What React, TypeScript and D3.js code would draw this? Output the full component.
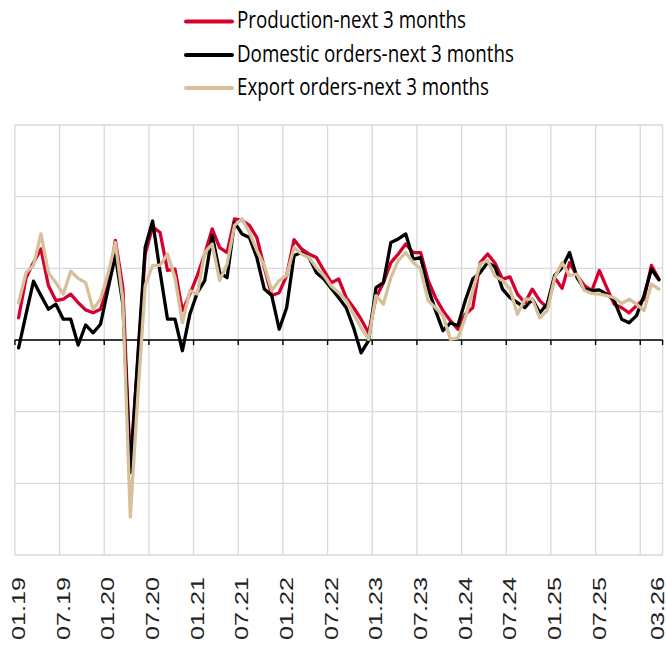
import React from "react";
import * as d3 from "d3";

const W = 666;
const H = 648;

// months 01.19 .. 03.26
const startYear = 2019;
const nMonths = 87;
const categories: string[] = Array.from({ length: nMonths }, (_, i) => {
  const m = (i % 12) + 1;
  const y = startYear + Math.floor(i / 12);
  return `${String(m).padStart(2, "0")}.${String(y % 100).padStart(2, "0")}`;
});

const tickLabels = ["01.19", "07.19", "01.20", "07.20", "01.21", "07.21", "01.22", "07.22", "01.23", "07.23", "01.24", "07.24", "01.25", "07.25", "03.26"];

const production = [
  3.1, 8.7, 10.8, 12.7, 7.6, 5.5, 5.7, 6.4, 5.2, 4.2, 3.8, 4.3,
  7.6, 13.9, 7.3, -17.5, -3, 12.0, 15.8, 15.0, 9.7, 9.9, 4.1, 6.4,
  9.0, 12.0, 15.5, 12.9, 12.2, 16.9, 16.7, 16.0, 14.3, 10.1, 6.2, 6.6,
  9.0, 14.0, 12.7, 12.0, 11.5, 9.7, 8.0, 8.5, 5.9, 4.5, 2.9, 1.0,
  5.9, 8.0, 10.8, 12.0, 13.4, 12.2, 12.2, 8.3, 5.9, 4.1, 2.7, 1.5,
  3.6, 4.5, 10.8, 12.0, 10.7, 8.5, 8.8, 6.4, 5.2, 7.1, 5.5, 4.5,
  8.7, 7.2, 10.8, 9.0, 7.6, 6.9, 9.7, 7.3, 5.0, 4.5, 3.8, 4.8,
  5.7, 10.4, 8.5,
];

const domestic = [
  -1.1, 3.6, 8.2, 6.2, 4.3, 5.0, 2.9, 2.9, -0.7, 2.1, 1.0, 2.2,
  7.1, 11.8, 5.0, -18.5, -2.5, 12.9, 16.6, 9.5, 2.9, 2.9, -1.5, 3.6,
  6.6, 8.3, 14.6, 9.4, 8.7, 16.4, 14.8, 14.3, 11.5, 7.1, 6.2, 1.5,
  4.5, 11.8, 12.2, 11.5, 9.4, 8.5, 7.2, 5.9, 4.5, 1.7, -1.8, -0.1,
  7.3, 8.0, 13.6, 14.1, 14.8, 11.3, 11.5, 7.3, 4.1, 1.3, 2.4, 2.0,
  5.5, 8.5, 9.4, 10.8, 10.2, 7.1, 5.9, 5.2, 4.5, 5.7, 3.8, 5.0,
  9.0, 10.1, 12.2, 8.7, 7.1, 6.9, 7.0, 6.4, 5.5, 2.9, 2.4, 3.4,
  6.2, 9.9, 8.4,
];

const exportOrders = [
  5.2, 9.4, 10.4, 14.8, 9.4, 8.0, 6.4, 9.6, 8.6, 8.0, 4.3, 5.7,
  9.2, 13.6, 5.5, -24.7, -8, 7.6, 10.4, 10.4, 12.0, 8.7, 2.4, 6.9,
  6.4, 12.2, 13.4, 8.3, 10.6, 16.0, 16.9, 15.0, 12.5, 10.4, 6.9, 8.3,
  9.0, 12.9, 12.0, 11.5, 10.1, 9.0, 7.5, 6.6, 5.5, 3.6, 1.7, 0.1,
  6.2, 5.0, 8.7, 11.1, 12.2, 10.8, 9.9, 5.5, 4.5, 3.4, 0.1, 0.3,
  3.1, 6.9, 10.6, 11.1, 8.9, 8.3, 7.1, 3.6, 5.7, 5.7, 3.1, 4.1,
  8.7, 10.8, 9.0, 9.2, 6.9, 6.5, 6.4, 6.2, 5.9, 5.1, 5.7, 5.0,
  4.1, 7.8, 7.1,
];

const yTicks = [-30, -20, -10, 0, 10, 20, 30];

const seriesNames = ["Production-next 3 months", "Domestic orders-next 3 months", "Export orders-next 3 months"];
const seriesColors = ["#d5002f", "#000000", "#d6c09a"];
const seriesData = [production, domestic, exportOrders];
const legendWidths = [229, 277, 252];

export default function App() {
  const left = 14.9;
  const right = 662.6;
  const top = 125;
  const bottom = 555;

  const x = d3.scaleBand<string>().domain(categories).range([left, right]).padding(0);
  const y = d3.scaleLinear().domain([-30, 30]).range([bottom, top]);
  const bw = x.bandwidth();

  const gridIdx = categories.map((_, i) => i).filter((i) => i % 6 === 0);

  const line = d3
    .line<number>()
    .x((_, i) => (x(categories[i]) as number) + bw / 2)
    .y((d) => y(d));

  const legendBase = [28, 61.5, 94.5];

  return (
    <svg width={W} height={H} style={{ position: "absolute", left: 0, top: 0, background: "#fff" }}>
      {/* horizontal gridlines */}
      {yTicks.map((t) => (
        <line key={"h" + t} x1={left} x2={right} y1={y(t)} y2={y(t)} stroke="#d9d9d9" strokeWidth={1.3} />
      ))}
      {/* vertical gridlines */}
      {gridIdx.map((i) => (
        <line key={"v" + i} x1={x(categories[i])} x2={x(categories[i])} y1={top} y2={bottom} stroke="#d9d9d9" strokeWidth={1.3} />
      ))}
      <line x1={right} x2={right} y1={top} y2={bottom} stroke="#d9d9d9" strokeWidth={1.3} />
      {/* zero axis */}
      <line x1={left} x2={right} y1={y(0)} y2={y(0)} stroke="#000" strokeWidth={1.4} />
      {gridIdx.map((i) => (
        <line key={"t" + i} x1={x(categories[i])} x2={x(categories[i])} y1={y(0)} y2={y(0) + 5} stroke="#000" strokeWidth={1.4} />
      ))}
      <line x1={right} x2={right} y1={y(0)} y2={y(0) + 5} stroke="#000" strokeWidth={1.4} />
      {/* series */}
      {seriesData.map((s, k) => (
        <path key={"s" + k} d={line(s) || ""} fill="none" stroke={seriesColors[k]} strokeWidth={3.3} strokeLinejoin="round" strokeLinecap="round" />
      ))}
      {/* x labels */}
      {tickLabels.map((lab) => {
        const cx = (x(lab) as number) + bw / 2;
        const bx = Math.min(cx + 6.5, W - 2.5);
        return (
          <text
            key={"l" + lab}
            transform={`translate(${bx},640) rotate(-90)`}
            fontFamily="Liberation Sans, Arial, sans-serif"
            fontSize={18}
            fill="#222"
            textLength={63}
            lengthAdjust="spacingAndGlyphs"
          >
            {lab}
          </text>
        );
      })}
      {/* legend */}
      {seriesNames.map((n, k) => (
        <g key={"g" + k}>
          <line x1={186} x2={232} y1={legendBase[k] - 6.5} y2={legendBase[k] - 6.5} stroke={seriesColors[k]} strokeWidth={4} strokeLinecap="round" />
          <text
            x={237}
            y={legendBase[k]}
            fontFamily="Open Sans, sans-serif"
            fontSize={24}
            fill="#000"
            textLength={legendWidths[k]}
            lengthAdjust="spacingAndGlyphs"
          >
            {n}
          </text>
        </g>
      ))}
    </svg>
  );
}
